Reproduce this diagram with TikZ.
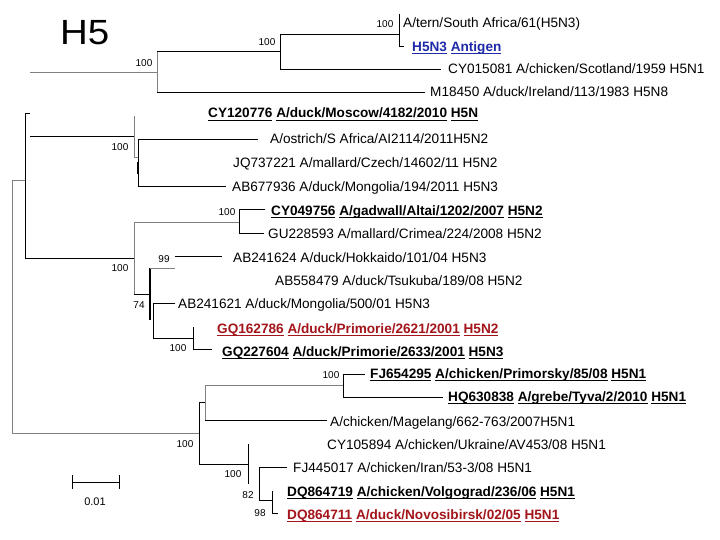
\documentclass[tikz,border=0pt]{standalone}
\usepackage{fontspec}
\setmainfont{Liberation Sans}
\definecolor{linkblue}{HTML}{1F2AA8}
\definecolor{linkred}{HTML}{A3151B}
\definecolor{branchgray}{HTML}{808080}
\newsavebox\ulbox
\newcommand\ulw[1]{\sbox\ulbox{#1}\rlap{\rule[-2.6pt]{\wd\ulbox}{0.9pt}}\usebox\ulbox}
\begin{document}
\begin{tikzpicture}[x=1pt,y=-1pt,
  br/.style={line width=0.9pt, black},
  gbr/.style={line width=0.9pt, branchgray},
  leaf/.style={anchor=base west, inner sep=0pt, font=\fontsize{13.6}{15}\selectfont},
  bleaf/.style={anchor=base west, inner sep=0pt, font=\fontsize{13.6}{15}\selectfont\bfseries},
  boot/.style={inner sep=0pt, font=\fontsize{10}{12}\selectfont}]
\useasboundingbox[fill=white] (0,0) rectangle (720,540);

% title
\node[anchor=base west, inner sep=0pt, font=\fontsize{35}{40}\selectfont] (title) at (60,45) {\scalebox{1.1}[1]{H5}};

% leaves
\node[leaf] (l1) at (403,28) {A/tern/South Africa/61(H5N3)};
\node[bleaf, text=linkblue] (l2) at (412,51.7) {\ulw{H5N3} \ulw{Antigen}};
\node[leaf] (l3) at (448,74) {CY015081 A/chicken/Scotland/1959 H5N1};
\node[leaf] (l4) at (430,96.7) {M18450 A/duck/Ireland/113/1983 H5N8};
\node[bleaf] (l5) at (208,118) {\ulw{CY120776} \ulw{A/duck/Moscow/4182/2010} \ulw{H5N}};
\node[leaf] (l6) at (270,143.5) {A/ostrich/S Africa/AI2114/2011H5N2};
\node[leaf] (l7) at (233,168) {JQ737221 A/mallard/Czech/14602/11 H5N2};
\node[leaf] (l8) at (232,191.7) {AB677936 A/duck/Mongolia/194/2011 H5N3};
\node[bleaf] (l9) at (271,215) {\ulw{CY049756} \ulw{A/gadwall/Altai/1202/2007} \ulw{H5N2}};
\node[leaf] (l10) at (268,238) {GU228593 A/mallard/Crimea/224/2008 H5N2};
\node[leaf] (l11) at (233,262) {AB241624 A/duck/Hokkaido/101/04 H5N3};
\node[leaf] (l12) at (275,285) {AB558479 A/duck/Tsukuba/189/08 H5N2};
\node[leaf] (l13) at (178,308) {AB241621 A/duck/Mongolia/500/01 H5N3};
\node[bleaf, text=linkred] (l14) at (217,333) {\ulw{GQ162786} \ulw{A/duck/Primorie/2621/2001} \ulw{H5N2}};
\node[bleaf] (l15) at (222,356) {\ulw{GQ227604} \ulw{A/duck/Primorie/2633/2001} \ulw{H5N3}};
\node[bleaf] (l16) at (370,378) {\ulw{FJ654295} \ulw{A/chicken/Primorsky/85/08} \ulw{H5N1}};
\node[bleaf] (l17) at (448,401.7) {\ulw{HQ630838} \ulw{A/grebe/Tyva/2/2010} \ulw{H5N1}};
\node[leaf] (l18) at (330,426) {A/chicken/Magelang/662-763/2007H5N1};
\node[leaf] (l19) at (327,449) {CY105894 A/chicken/Ukraine/AV453/08 H5N1};
\node[leaf] (l20) at (293,472.7) {FJ445017 A/chicken/Iran/53-3/08 H5N1};
\node[bleaf] (l21) at (287,496.7) {\ulw{DQ864719} \ulw{A/chicken/Volgograd/236/06} \ulw{H5N1}};
\node[bleaf, text=linkred] (l22) at (287,519) {\ulw{DQ864711} \ulw{A/duck/Novosibirsk/02/05} \ulw{H5N1}};

% bootstrap values
\node[boot] (b1) at (144,63) {100};
\node[boot] (b2) at (267,42) {100};
\node[boot] (b3) at (385,24) {100};
\node[boot] (b4) at (120,147) {100};
\node[boot] (b5) at (120,268) {100};
\node[boot] (b6) at (227,212) {100};
\node[boot] (b7) at (164,259) {99};
\node[boot] (b8) at (139,305) {74};
\node[boot] (b9) at (178,348) {100};
\node[boot] (b10) at (331,375) {100};
\node[boot] (b11) at (185,444) {100};
\node[boot] (b12) at (233,474) {100};
\node[boot] (b13) at (248,495) {82};
\node[boot] (b14) at (260,513) {98};

% top clade
\draw[gbr] (30,72) -- (157,72);
\draw[gbr] (157,51) -- (157,92);
\draw[br] (157,51) -- (280,51);
\draw[br] (280,34) -- (280,69);
\draw[br] (280,34) -- (399,34);
\draw[br] (399,14) -- (399,46) -- (404,46);
\draw[br] (280,69) -- (441,69);
\draw[br] (157,92) -- (425,92);

% middle clades
\draw[gbr] (25,180) -- (12,180) -- (12,433) -- (199,433);
\draw[br] (30,113) -- (25,113) -- (25,258) -- (134,258);
\draw[br] (30,136) -- (134,136);
\draw[gbr] (134,116) -- (134,157) -- (138,157);
\draw[br] (258,139) -- (138,139) -- (138,186) -- (226,186);
\draw[line width=1.8pt] (138,162) -- (138,174);
\draw[gbr] (239,222) -- (134,222) -- (134,294);
\draw[br] (134,294) -- (150,294);
\draw[br] (265,209) -- (239,209) -- (239,233) -- (264,233);
\draw[line width=1.3pt] (150,268) -- (150,320);
\draw[gbr] (150,268) -- (175,268);
\draw[br] (175,256) -- (222,256);
\draw[br] (175,303) -- (153,303) -- (153,338) -- (193,338);
\draw[br] (193,327) -- (193,349) -- (212,349);

% lower clade
\draw[br] (205,402) -- (199,402) -- (199,464) -- (248,464);
\draw[gbr] (343,385) -- (205,385) -- (205,420);
\draw[br] (205,420) -- (327,420);
\draw[br] (365,374) -- (343,374) -- (343,397) -- (443,397);
\draw[br] (248,444) -- (248,484);
\draw[br] (287,467) -- (259,467) -- (259,500) -- (272,500);
\draw[br] (272,491) -- (272,513) -- (278,513);

% scale bar
\coordinate (s1) at (72,482);
\coordinate (s2) at (119,482);
\draw[br] (s1) -- (s2);
\draw[br] ([yshift=7pt]s1) -- ([yshift=-7pt]s1);
\draw[br] ([yshift=7pt]s2) -- ([yshift=-7pt]s2);
\node[boot, font=\fontsize{11}{13}\selectfont] (scl) at (95,502) {0.01};
\end{tikzpicture}
\end{document}
